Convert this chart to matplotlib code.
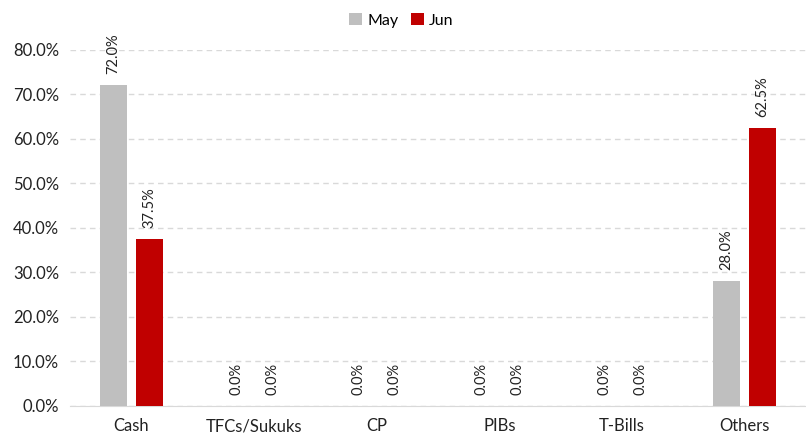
import numpy as np
import matplotlib.pyplot as plt
from matplotlib.ticker import PercentFormatter

plt.rcParams['font.family'] = ['Lato', 'DejaVu Sans']

categories = ['Cash', 'TFCs/Sukuks', 'CP', 'PIBs', 'T-Bills', 'Others']
may = [72.0, 0.0, 0.0, 0.0, 0.0, 28.0]
jun = [37.5, 0.0, 0.0, 0.0, 0.0, 62.5]

fig = plt.figure(figsize=(8.06, 4.37), dpi=100)
ax = fig.add_axes([0.087, 0.071, 0.913, 0.815])

x = np.arange(len(categories))
w = 0.22
off = 0.147
b1 = ax.bar(x - off, may, w, color='#BFBFBF', label='May', zorder=3)
b2 = ax.bar(x + off, jun, w, color='#C00000', label='Jun', zorder=3)

for bars, vals in ((b1, may), (b2, jun)):
    for rect, v in zip(bars, vals):
        ax.annotate(f'{v:.1f}%', (rect.get_x() + rect.get_width() / 2, v),
                    xytext=(0, 8), textcoords='offset points',
                    ha='center', va='bottom', rotation=90,
                    fontsize=10.5, color='#222222', clip_on=False)

ax.set_xlim(-0.5, len(categories) - 0.5)
ax.set_ylim(0, 80)
ax.set_yticks(np.arange(0, 81, 10))
ax.yaxis.set_major_formatter(PercentFormatter(decimals=1))
ax.set_xticks(x)
ax.set_xticklabels(categories)
ax.tick_params(axis='both', length=0, labelsize=12, colors='#222222')
ax.tick_params(axis='x', pad=9)
ax.tick_params(axis='y', pad=8)

ax.grid(axis='y', color='#D9D9D9', linestyle=(0, (4, 3)), linewidth=1, zorder=0)
for s in ['top', 'right', 'left']:
    ax.spines[s].set_visible(False)
ax.spines['bottom'].set_color('#D9D9D9')

ax.legend(loc='center', bbox_to_anchor=(0.45, 1.083), ncol=2, frameon=False,
          fontsize=11.5, handlelength=0.8, handleheight=0.8, handletextpad=0.3,
          columnspacing=0.8)

plt.savefig('out.png', dpi=100)
plt.close(fig)
